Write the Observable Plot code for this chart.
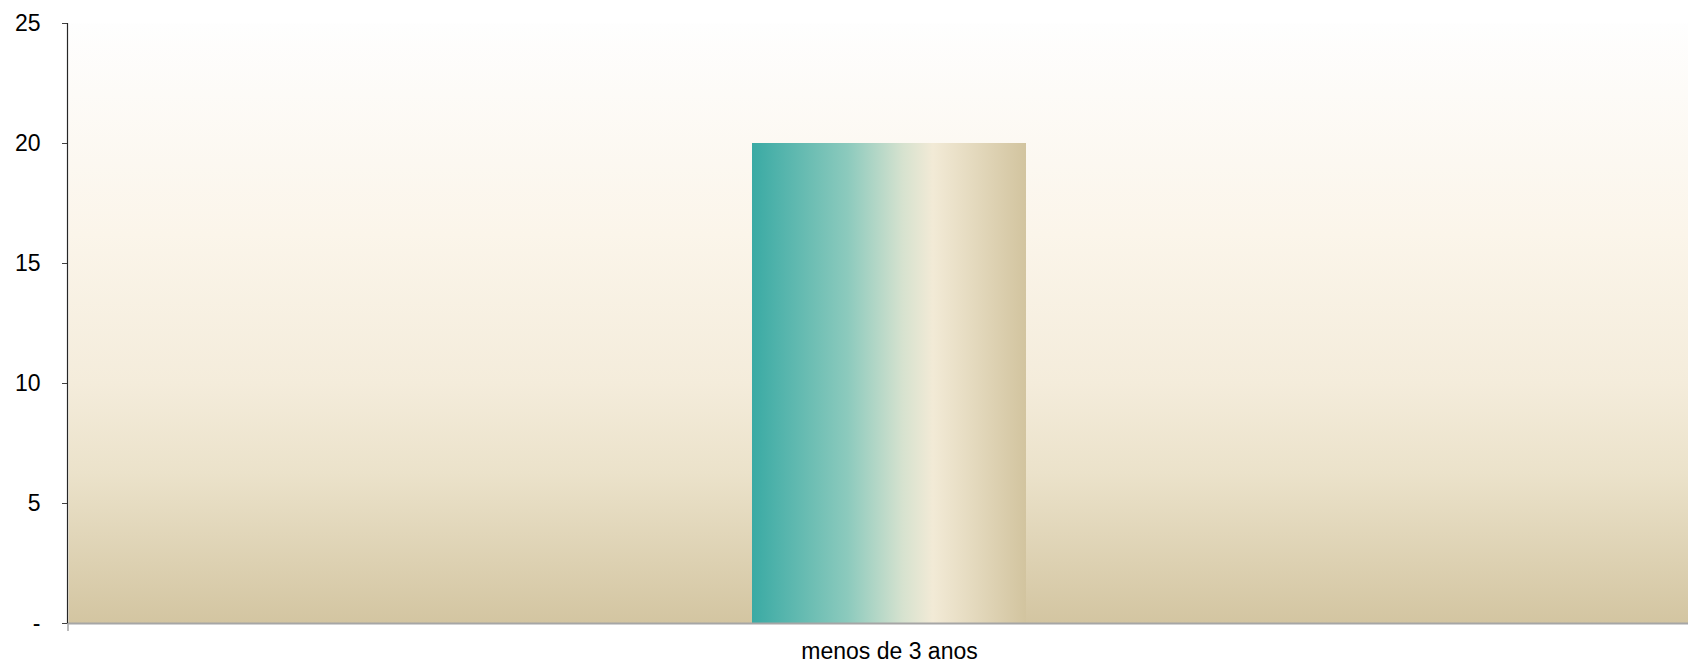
<!DOCTYPE html>
<html>
<head>
<meta charset="utf-8">
<script src="https://cdn.jsdelivr.net/npm/d3@7"></script>
<script src="https://cdn.jsdelivr.net/npm/@observablehq/plot@0.6"></script>
<style>
  html, body { margin: 0; padding: 0; background: #ffffff; }
  svg { display: block; }
</style>
</head>
<body>
<div id="chart"></div>
<script>
// Data
const categories = ["menos de 3 anos"];
const values = [20];
const yTicks = [0, 5, 10, 15, 20, 25];

const data = categories.map((c, i) => ({category: c, value: values[i]}));

// Custom axis lines drawn through the scales
function axisLines(index, scales, values, dimensions) {
  const g = d3.create("svg:g");
  const x0 = dimensions.marginLeft - 0.5;
  g.append("line")
    .attr("x1", x0).attr("x2", x0)
    .attr("y1", scales.y(25)).attr("y2", scales.y(0))
    .attr("stroke", "#262626").attr("stroke-width", 1.2);
  g.append("line")
    .attr("x1", x0 + 0.5).attr("x2", x0 + 0.5)
    .attr("y1", scales.y(0)).attr("y2", scales.y(0) + 8)
    .attr("stroke", "#a6a6a6").attr("stroke-width", 1.5);
  return g.node();
}

const plot = Plot.plot({
  width: 1688,
  height: 667,
  marginLeft: 68,
  marginRight: 0,
  marginTop: 23,
  marginBottom: 44,
  style: {fontFamily: "'Liberation Sans', Arial, sans-serif", fontSize: "23px", color: "#000", background: "transparent"},
  x: {domain: categories, range: [68, 1710], padding: 0.714, label: null},
  y: {domain: [0, 25], label: null},
  marks: [
    Plot.frame({fill: "url(#bgGrad)", stroke: "none"}),
    Plot.barY(data, {x: "category", y: "value", fill: "url(#barGrad)"}),
    Plot.ruleY([0], {stroke: "#a6a6a6", strokeWidth: 2}),
    Plot.axisY({ticks: yTicks, tickSize: 6, tickPadding: 22, stroke: "#404040",
      tickFormat: d => d === 0 ? "-" : d3.format("d")(d), fontSize: 23, label: null}),
    Plot.axisX({tickSize: 0, tickPadding: 19, fontSize: 23, label: null}),
    axisLines
  ]
});

// Gradient definitions
const svg = d3.select(plot);
const defs = svg.insert("defs", ":first-child");
const bg = defs.append("linearGradient").attr("id", "bgGrad")
  .attr("x1", 0).attr("y1", 0).attr("x2", 0).attr("y2", 1);
[[0, "#fefefe"], [0.35, "#fbf5ea"], [0.6, "#f4ecdb"], [0.75, "#ebe2ca"], [1, "#d3c5a1"]]
  .forEach(([o, c]) => bg.append("stop").attr("offset", o).attr("stop-color", c));
const bar = defs.append("linearGradient").attr("id", "barGrad")
  .attr("x1", 0).attr("y1", 0).attr("x2", 1).attr("y2", 0);
[[0, "#3aaaa4"], [0.35, "#8ccabd"], [0.55, "#d6e2cf"], [0.66, "#f2ead6"], [1, "#d2c49f"]]
  .forEach(([o, c]) => bar.append("stop").attr("offset", o).attr("stop-color", c));

document.getElementById("chart").appendChild(plot);
</script>
</body>
</html>
